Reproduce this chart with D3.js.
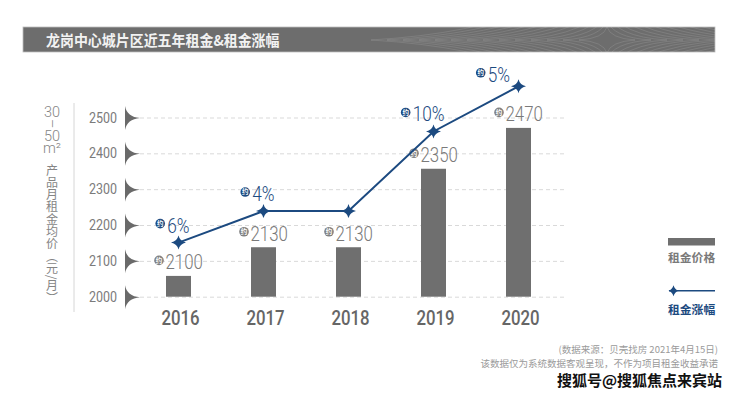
<!DOCTYPE html>
<html><head><meta charset="utf-8">
<script src="https://cdn.jsdelivr.net/npm/d3@7"></script>
<style>
html,body{margin:0;padding:0;background:#fff;}
svg{display:block;}
</style></head>
<body>
<svg id="c" width="740" height="394"></svg>
<script>
// ---- data ----
const years = ["2016", "2017", "2018", "2019", "2020"];
const rentBarValues = [2058, 2138, 2138, 2357, 2471];          // bar heights as drawn
const rentLabels = ["2100", "2130", "2130", "2350", "2470"];    // printed values
const growthMarkerValues = [2151, 2239, 2239, 2461, 2587];      // line marker levels (on rent axis)
const growthLabels = ["6%", "4%", null, "10%", "5%"];
const yTicks = [2000, 2100, 2200, 2300, 2400, 2500];
const titleText = "龙岗中心城片区近五年租金&租金涨幅";
const yTitleNumPieces = ["30", "–", "50", "m²"];
const yTitleCjk = "产品月租金均价（元/月）";
const legendLabels = ["租金价格", "租金涨幅"];
const footnotes = ["(数据来源：贝壳找房 2021年4月15日)", "该数据仅为系统数据客观呈现，不作为项目租金收益承诺"];
const watermark = "搜狐号@搜狐焦点来宾站";

// ---- styles ----
const GREY_BAR = "#6f6f6f", BLUE = "#1c4a80", TXT = "#7b7b7b";
const NUM_FONT = "Roboto, 'DejaVu Sans', sans-serif";
const CJK_FONT = "'Noto Sans CJK SC', 'Noto Sans', sans-serif";

const svg = d3.select("#c");

function condense(sel, k) {
  sel.each(function () {
    const w = this.getComputedTextLength();
    d3.select(this).attr("textLength", w * k).attr("lengthAdjust", "spacingAndGlyphs");
  });
}

// ---- title bar ----
const defs = svg.append("defs");
defs.append("clipPath").attr("id", "tclip").append("rect")
  .attr("x", 23).attr("y", 27).attr("width", 692).attr("height", 25);
svg.append("rect").attr("x", 23).attr("y", 27).attr("width", 692).attr("height", 25)
  .attr("fill", "#6d6d6d").attr("stroke", "#bdbdbd").attr("stroke-width", 0.8);
const pat = svg.append("g").attr("clip-path", "url(#tclip)");
function concave(cx, cy, w, h, c) {
  return `M${cx + w},${cy} Q${cx + c * w},${cy + c * h} ${cx},${cy + h} Q${cx - c * w},${cy + c * h} ${cx - w},${cy} Q${cx - c * w},${cy - c * h} ${cx},${cy - h} Q${cx + c * w},${cy - c * h} ${cx + w},${cy} Z`;
}
for (let k = 1; k <= 14; k++) {
  pat.append("path").attr("d", concave(607, 40, 12 + k * 16, 6 + k * 7, 0.12))
    .attr("fill", "none").attr("stroke", "rgba(255,255,255,0.13)").attr("stroke-width", 0.9);
}
svg.append("text").attr("x", 46).attr("y", 45.5).text(titleText)
  .attr("font-family", CJK_FONT).attr("font-weight", 700).attr("font-size", 15)
  .attr("fill", "#f2f2f2").call(condense, 0.93);

// ---- scales ----
const x = d3.scaleBand().domain(years).range([136, 561]).paddingInner(0.706).paddingOuter(0.353);
const y = d3.scaleLinear().domain([2000, 2500]).range([296.7, 117.5]);
const cx = d => x(d) + x.bandwidth() / 2;

// ---- left divider & y title ----
svg.append("line").attr("x1", 74).attr("x2", 74).attr("y1", 103).attr("y2", 312)
  .attr("stroke", "#d6d6d6").attr("stroke-width", 1);
const numTitle = svg.append("text").attr("font-family", NUM_FONT).attr("font-weight", 300)
  .attr("font-size", 14.5).attr("fill", "#858585").attr("text-anchor", "middle");
const numY = [117, 119, 140.5, 153];
yTitleNumPieces.forEach((p, i) => {
  const ts = numTitle.append("tspan").attr("x", 52).attr("y", numY[i]).text(p);
  if (i === 1) ts.attr("rotate", 90).attr("x", 51.5);
});
svg.append("text").attr("x", 52).attr("y", 164).text(yTitleCjk)
  .attr("writing-mode", "vertical-rl").attr("font-family", CJK_FONT).attr("font-weight", 400)
  .attr("font-size", 12).attr("letter-spacing", 0.3).attr("fill", "#858585");

// ---- y axis with fins and dashed grid ----
const yAxis = d3.axisLeft(y).tickValues(yTicks).tickSize(0).tickPadding(23).tickFormat(d3.format("d"));
const ya = svg.append("g").attr("transform", "translate(140,0)").call(yAxis);
ya.select(".domain").remove();
ya.selectAll(".tick text").attr("font-family", NUM_FONT).attr("font-size", 14.5)
  .attr("font-weight", 400).attr("fill", TXT).call(condense, 0.86);
ya.selectAll(".tick").append("path")
  .attr("d", "M-15,-12 Q-13,-1 0,0 Q-13,1 -15,12 Z").attr("fill", "#6a6a6a");
ya.selectAll(".tick").append("line").attr("x1", 0).attr("x2", 425)
  .attr("stroke", "#d9d9d9").attr("stroke-dasharray", "4,3").attr("stroke-width", 1);

// ---- x axis ----
const xAxis = d3.axisBottom(x).tickSize(0).tickPadding(14);
const xa = svg.append("g").attr("transform", `translate(2,${y(2000)})`).call(xAxis);
xa.select(".domain").remove();
xa.selectAll(".tick text").attr("font-family", NUM_FONT).attr("font-size", 20)
  .attr("font-weight", 500).attr("fill", "#666").call(condense, 0.84);

// ---- bars ----
svg.append("g").selectAll("rect").data(years).join("rect")
  .attr("x", d => x(d)).attr("width", x.bandwidth())
  .attr("y", (d, i) => y(rentBarValues[i]))
  .attr("height", (d, i) => y(2000) - y(rentBarValues[i]))
  .attr("fill", GREY_BAR);

// "约" badge
function badge(g, bx, by, color) {
  g.append("circle").attr("cx", bx).attr("cy", by).attr("r", 4.8).attr("fill", color);
  g.append("text").attr("x", bx).attr("y", by + 2.4).text("约")
    .attr("text-anchor", "middle").attr("font-family", CJK_FONT).attr("font-weight", 700)
    .attr("font-size", 6.5).attr("fill", "#fff");
}

// ---- bar value labels ----
const vl = svg.append("g");
years.forEach((yr, i) => {
  const tx = cx(yr) - 13, ty = y(rentBarValues[i]) - 6.5;
  badge(vl, tx - 6.5, ty - 9, "#808080");
  vl.append("text").attr("x", tx).attr("y", ty).text(rentLabels[i])
    .attr("font-family", NUM_FONT).attr("font-weight", 300).attr("font-size", 20.5)
    .attr("fill", "#7a7a7a").call(condense, 0.82);
});

// ---- growth line ----
const line = d3.line().x((d, i) => cx(years[i])).y(d => y(d));
svg.append("path").datum(growthMarkerValues).attr("d", line)
  .attr("fill", "none").attr("stroke", BLUE).attr("stroke-width", 2);
const starPath = (r, ry) => `M${r},0 Q1.3,1.3 0,${ry} Q-1.3,1.3 -${r},0 Q-1.3,-1.3 0,-${ry} Q1.3,-1.3 ${r},0 Z`;
svg.append("g").selectAll("path").data(growthMarkerValues).join("path")
  .attr("d", starPath(7.5, 7))
  .attr("transform", (d, i) => `translate(${cx(years[i])},${y(d)})`)
  .attr("fill", BLUE);

// ---- growth labels ----
const gl = svg.append("g");
growthMarkerValues.forEach((v, i) => {
  if (!growthLabels[i]) return;
  const last = i === growthMarkerValues.length - 1;
  const ex = cx(years[i]) + (last ? -8.5 : 11);
  const ty = y(v) - (last ? 4.5 : 10);
  const t = gl.append("text").attr("x", ex).attr("y", ty).text(growthLabels[i])
    .attr("text-anchor", "end").attr("font-family", NUM_FONT).attr("font-weight", 300)
    .attr("font-size", 20.5).attr("fill", BLUE).call(condense, 0.84);
  const w = t.node().getAttribute("textLength");
  badge(gl, ex - w - 7, ty - 9, BLUE);
});

// ---- legend ----
const lg = svg.append("g");
lg.append("rect").attr("x", 668).attr("y", 238).attr("width", 47).attr("height", 7.5).attr("fill", GREY_BAR);
lg.append("text").attr("x", 668).attr("y", 262).text(legendLabels[0])
  .attr("font-family", CJK_FONT).attr("font-weight", 700).attr("font-size", 11.8).attr("fill", "#7a7a7a");
lg.append("line").attr("x1", 669).attr("x2", 715).attr("y1", 290.7).attr("y2", 290.7)
  .attr("stroke", BLUE).attr("stroke-width", 1.6);
lg.append("path").attr("d", starPath(5, 5.5)).attr("transform", "translate(673.5,290.7)").attr("fill", BLUE);
lg.append("text").attr("x", 668).attr("y", 313.5).text(legendLabels[1])
  .attr("font-family", CJK_FONT).attr("font-weight", 700).attr("font-size", 11.8).attr("fill", BLUE);

// ---- footnotes ----
svg.append("text").attr("x", 718).attr("y", 353).text(footnotes[0])
  .attr("text-anchor", "end").attr("font-family", CJK_FONT).attr("font-size", 9.5).attr("fill", "#9a9a9a");
svg.append("text").attr("x", 718).attr("y", 367).text(footnotes[1])
  .attr("text-anchor", "end").attr("font-family", CJK_FONT).attr("font-size", 9.5).attr("fill", "#9a9a9a");
svg.append("text").attr("x", 722).attr("y", 385.5).text(watermark)
  .attr("text-anchor", "end").attr("font-family", CJK_FONT).attr("font-weight", 700).attr("font-size", 15)
  .attr("fill", "#111").attr("stroke", "#fff").attr("stroke-width", 2.5).attr("paint-order", "stroke");
</script>
</body></html>
